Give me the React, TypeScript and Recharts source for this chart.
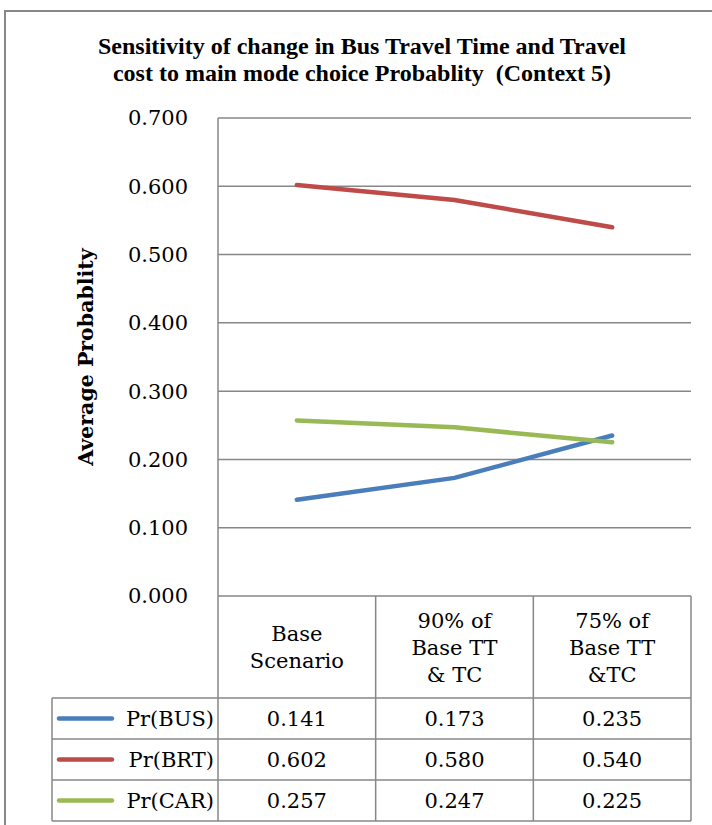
import React from 'react';
import { LineChart, Line, XAxis, YAxis, CartesianGrid } from 'recharts';

// chart values
const categories = ['Base Scenario', '90% of Base TT & TC', '75% of Base TT &TC'];
const categoryLines = [['Base', 'Scenario'], ['90% of', 'Base TT', '& TC'], ['75% of', 'Base TT', '&TC']];
const busValues = [0.141, 0.173, 0.235];
const brtValues = [0.602, 0.58, 0.54];
const carValues = [0.257, 0.247, 0.225];
const yTicks = [0, 0.1, 0.2, 0.3, 0.4, 0.5, 0.6, 0.7];

const series = [
    { key: 'bus', name: 'Pr(BUS)', values: busValues, color: '#4a7ebb' },
    { key: 'brt', name: 'Pr(BRT)', values: brtValues, color: '#be4b48' },
    { key: 'car', name: 'Pr(CAR)', values: carValues, color: '#98b954' },
];

const data = categories.map((cat, i) => ({
    cat,
    bus: busValues[i],
    brt: brtValues[i],
    car: carValues[i],
}));

// layout
const W = 712;
const H = 825;
const PLOT_L = 218;
const PLOT_R = 691;
const PLOT_T = 118;
const PLOT_B = 596;
const HEADER_B = 698;
const ROW_H = 41;
const TABLE_L = 52;
const GRID = '#878787';
const SERIF = '"DejaVu Serif", serif';
const TITLE_FONT = '"Liberation Serif", "Times New Roman", serif';
const FS = 21;

const colW = (PLOT_R - PLOT_L) / categories.length;
const colX = (i: number) => PLOT_L + colW * i;
const colMid = (i: number) => PLOT_L + colW * (i + 0.5);

function Overlay() {
    const tableBottom = HEADER_B + ROW_H * series.length;
    return (
        <svg width={W} height={H} style={{ position: 'absolute', left: 0, top: 0, pointerEvents: 'none' }}>
            <rect x={5} y={11} width={800} height={900} fill="none" stroke={GRID} strokeWidth={2} />
            <text x={362} y={54} textAnchor="middle" fontFamily={TITLE_FONT} fontWeight="bold" fontSize={24}>
                Sensitivity of change in Bus Travel Time and Travel
            </text>
            <text x={362} y={81} textAnchor="middle" fontFamily={TITLE_FONT} fontWeight="bold" fontSize={24} style={{ whiteSpace: 'pre' }}>
                {'cost to main mode choice Probablity  (Context 5)'}
            </text>
            <text
                x={0}
                y={0}
                transform={`translate(93, ${(PLOT_T + PLOT_B) / 2}) rotate(-90)`}
                textAnchor="middle"
                fontFamily={SERIF}
                fontWeight="bold"
                fontSize={20.5}
            >
                Average Probablity
            </text>

            {/* data table grid */}
            {categories.map((_, i) => (
                <line key={'v' + i} x1={colX(i)} x2={colX(i)} y1={PLOT_B} y2={tableBottom} stroke={GRID} strokeWidth={1.5} />
            ))}
            <line x1={PLOT_R} x2={PLOT_R} y1={PLOT_B} y2={tableBottom} stroke={GRID} strokeWidth={1.5} />
            <line x1={TABLE_L} x2={TABLE_L} y1={HEADER_B} y2={tableBottom} stroke={GRID} strokeWidth={1.5} />
            {series.map((_, r) => (
                <line key={'h' + r} x1={TABLE_L} x2={PLOT_R} y1={HEADER_B + ROW_H * r} y2={HEADER_B + ROW_H * r} stroke={GRID} strokeWidth={1.5} />
            ))}
            <line x1={TABLE_L} x2={PLOT_R} y1={tableBottom} y2={tableBottom} stroke={GRID} strokeWidth={1.5} />

            {/* header */}
            {categoryLines.map((lines, i) => {
                const mid = (PLOT_B + HEADER_B) / 2;
                const lh = 27;
                const start = mid - ((lines.length - 1) * lh) / 2;
                return lines.map((ln, j) => (
                    <text key={i + '-' + j} x={colMid(i)} y={start + j * lh} dy="0.36em" textAnchor="middle" fontFamily={SERIF} fontSize={FS}>
                        {ln}
                    </text>
                ));
            })}

            {/* rows */}
            {series.map((s, r) => {
                const cy = HEADER_B + ROW_H * r + ROW_H / 2;
                return (
                    <g key={s.key}>
                        <line x1={59} x2={112} y1={cy} y2={cy} stroke={s.color} strokeWidth={4.5} strokeLinecap="round" />
                        <text x={214} y={cy} dy="0.36em" textAnchor="end" fontFamily={SERIF} fontSize={FS}>
                            {s.name}
                        </text>
                        {s.values.map((v, i) => (
                            <text key={i} x={colMid(i)} y={cy} dy="0.36em" textAnchor="middle" fontFamily={SERIF} fontSize={FS}>
                                {v.toFixed(3)}
                            </text>
                        ))}
                    </g>
                );
            })}
        </svg>
    );
}

export default function App() {
    return (
        <div style={{ position: 'fixed', left: 0, top: 0, width: W, height: H, background: '#fff' }}>
            <LineChart
                width={W}
                height={H}
                data={data}
                margin={{ top: PLOT_T, right: W - PLOT_R, bottom: H - PLOT_B, left: PLOT_L - 80 }}
            >
                <CartesianGrid vertical={false} stroke={GRID} strokeWidth={1.5} />
                <XAxis dataKey="cat" scale="band" hide />
                <YAxis
                    width={80}
                    domain={[0, 0.7]}
                    ticks={yTicks}
                    interval={0}
                    tickFormatter={(v: number) => v.toFixed(3)}
                    tickLine={false}
                    tickSize={0}
                    tickMargin={30}
                    axisLine={{ stroke: GRID, strokeWidth: 1.5 }}
                    tick={{ fill: '#000', fontFamily: SERIF, fontSize: FS }}
                />
                {series.map((s) => (
                    <Line
                        key={s.key}
                        type="linear"
                        dataKey={s.key}
                        name={s.name}
                        stroke={s.color}
                        strokeWidth={4.5}
                        strokeLinecap="round"
                        dot={false}
                        activeDot={false}
                        isAnimationActive={false}
                    />
                ))}
            </LineChart>
            <Overlay />
        </div>
    );
}
